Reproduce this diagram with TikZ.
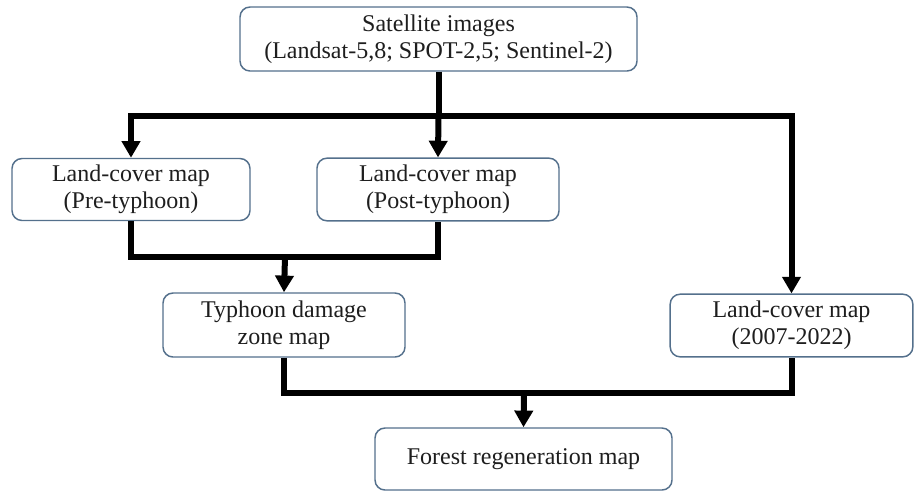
\documentclass[tikz,border=0pt]{standalone}
\usepackage{fontspec}
\setmainfont{Liberation Serif}
\usepackage{tikz}
\usetikzlibrary{arrows.meta, positioning, calc}
\usepackage{xcolor}
\definecolor{boxedge}{RGB}{84,112,140}
\definecolor{boxtext}{RGB}{30,30,30}

\tikzset{
  mapbox/.style={draw=boxedge, line width=1.1pt, rounded corners=7.5pt, fill=white,
    align=center, text=boxtext, inner sep=2pt, font=\fontsize{18}{20.25}\selectfont},
  flow/.style={line width=4.5pt, black},
  flowarrow/.style={flow, -{Triangle[width=13.5pt, length=12.5pt]}}
}

\begin{document}
\begin{tikzpicture}[x=0.75pt, y=-0.75pt]
      \useasboundingbox (0,0) rectangle (914,490);

      \node[mapbox, minimum width=297.75pt, minimum height=48pt] (sat) at (438.5, 39) {Satellite images\\(Landsat-5,8; SPOT-2,5; Sentinel-2)};
      \node[mapbox, minimum width=178.5pt, minimum height=46.5pt] (pre) at (131, 189.5) {Land-cover map\\(Pre-typhoon)};
      \node[mapbox, minimum width=181.5pt, minimum height=47pt] (post) at (438, 189.5) {Land-cover map\\(Post-typhoon)};
      \node[mapbox, minimum width=181.5pt, minimum height=48pt] (dmg) at (284, 325) {Typhoon damage\\zone map};
      \node[mapbox, minimum width=182pt, minimum height=47pt] (lc) at (791.5, 325.5) {Land-cover map\\(2007-2022)};
      \node[mapbox, minimum width=222.75pt, minimum height=46.5pt] (forest) at (523.5, 459) {Forest regeneration map};

      \coordinate (j1) at (438.5, 116);
      \coordinate (j2) at (285, 257);
      \coordinate (j3) at (524, 393);

      % satellite images split
      \draw[flow] (sat.south) -- (j1);
      \draw[flowarrow] (j1) -| (pre.north);
      \draw[flowarrow] (j1) -| (lc.north);
      \draw[flowarrow] (j1) -- (post.north);

      % pre and post merge
      \draw[flow] (pre.south) -- (pre.south |- j2) -- (post.south |- j2) -- (post.south);
      \draw[flowarrow] (j2) -- (dmg.north);

      % damage zone and time series merge
      \draw[flow] (dmg.south) -- (dmg.south |- j3) -- (lc.south |- j3) -- (lc.south);
      \draw[flowarrow] (j3) -- (forest.north);

    \end{tikzpicture}
\end{document}
